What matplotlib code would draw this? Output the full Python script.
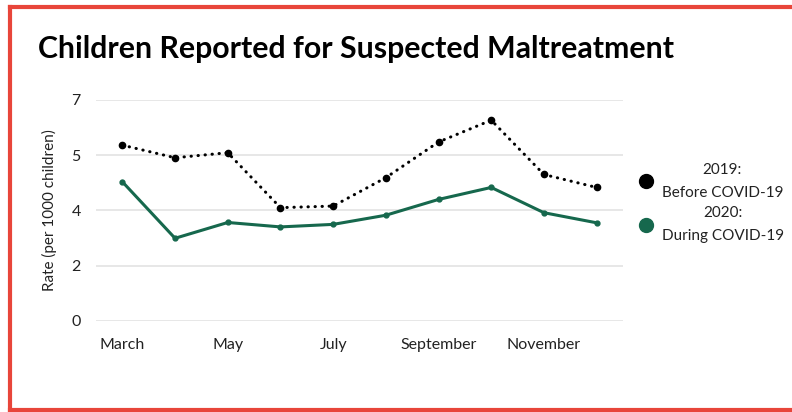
"""Children reported for suspected maltreatment, 2019 vs 2020"""
import matplotlib.pyplot as plt
from matplotlib.lines import Line2D

months = ['March', 'April', 'May', 'June', 'July', 'August',
          'September', 'October', 'November', 'December']
rate_2019 = [5.57, 5.17, 5.33, 3.59, 3.64, 4.54, 5.67, 6.36, 4.64, 4.23]
rate_2020 = [4.41, 2.62, 3.12, 2.98, 3.06, 3.35, 3.85, 4.23, 3.43, 3.11]
ytick_vals = [0, 1.75, 3.5, 5.25, 7]
ytick_labels = ['0', '2', '4', '5', '7']
legend_labels = ['2019:\nBefore COVID-19', '2020:\nDuring COVID-19']

GREEN = '#16684d'
RED = '#e8453a'

plt.rcParams['font.family'] = ['Lato', 'DejaVu Sans']

fig = plt.figure(figsize=(7.92, 4.12), dpi=100)
ax = fig.add_axes([0.1212, 0.2209, 0.6654, 0.5364])

x = range(len(months))
ax.plot(x, rate_2019, color='black', lw=2.2, linestyle=(0, (0.1, 2.2)),
        dash_capstyle='round', marker='o', ms=4.5)
ax.plot(x, rate_2020, color=GREEN, lw=2.2, marker='o', ms=3.5)

ax.set_xlim(-0.5, len(months) - 0.5)
ax.set_ylim(0, 7)
ax.set_yticks(ytick_vals)
ax.set_yticklabels(ytick_labels)
ax.set_xticks(list(x)[::2])
ax.set_xticklabels(months[::2])
ax.grid(axis='y', color='#e3e3e3', lw=1.2)
ax.set_axisbelow(True)
for s in ax.spines.values():
    s.set_visible(False)
ax.tick_params(length=0, labelsize=11.5, colors='#222222')
ax.tick_params(axis='y', pad=11)
ax.tick_params(axis='x', pad=12)
ax.set_ylabel('Rate (per 1000 children)', fontsize=11, color='#222222', labelpad=10)

handles = [Line2D([], [], ls='none', marker='o', color='black', ms=10),
           Line2D([], [], ls='none', marker='o', color=GREEN, ms=10)]
leg = ax.legend(handles, legend_labels, loc='center left',
                bbox_to_anchor=(1.03, 0.534), frameon=False, fontsize=11,
                handlelength=1.0, handletextpad=0.5, labelspacing=0.4,
                borderpad=0, borderaxespad=0)
for t in leg.get_texts():
    t.set_multialignment('center')
    t.set_linespacing(1.85)
    t.set_color('#222222')

fig.text(0.048, 0.882, 'Children Reported for Suspected Maltreatment',
         fontsize=21.8, fontweight='bold', va='center', ha='left')

# red frame (top, left, bottom)
fig.add_artist(Line2D([0.0126, 1.0], [0.9830, 0.9830], color=RED, lw=3,
                      transform=fig.transFigure))
fig.add_artist(Line2D([0.0126, 0.0126], [0.0048, 0.9830], color=RED, lw=3,
                      transform=fig.transFigure))
fig.add_artist(Line2D([0.0126, 1.0], [0.0048, 0.0048], color=RED, lw=3,
                      transform=fig.transFigure))

fig.savefig('out.png', dpi=100)
